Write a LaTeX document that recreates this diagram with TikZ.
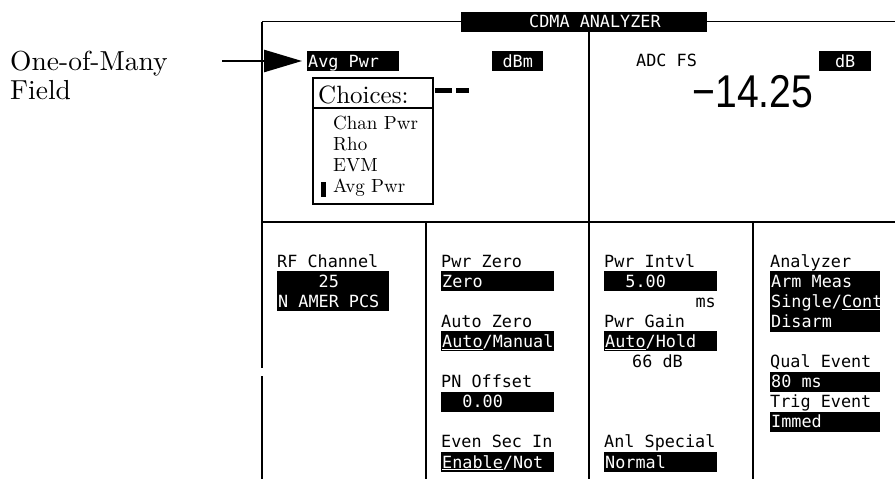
\documentclass[tikz,border=0pt]{standalone}
\usepackage{fontspec}
\usepackage{graphicx}
\usetikzlibrary{arrows.meta}
\newfontfamily\lcdfamily{DejaVu Sans Mono}
\newfontfamily\bigfamily{Liberation Sans}
\newfontfamily\notefamily{lmroman10-regular.otf}
\newcommand\lcd{\lcdfamily\fontsize{16.8}{20.1}\selectfont}
\newcommand\lcdstrut{\rule[-4pt]{0pt}{20pt}}
\newcommand\lcdspaces{\spaceskip=\fontdimen2\font\relax\xspaceskip=\spaceskip}

\begin{document}
\begin{tikzpicture}[x=1pt,y=-1pt,
    frame/.style={line width=1.4pt},
    lcdlabel/.style={font=\lcd,inner sep=0pt,anchor=west,execute at begin node=\lcdstrut},
    lcdfield/.style={fill=black,text=white,font=\lcd,inner xsep=1pt,inner ysep=0pt,
        text width=#1,align=left,anchor=west,execute at begin node=\lcdspaces\lcdstrut},
    lcdfield/.default=111pt,
    titlebar/.style={fill=black,inner sep=0pt,minimum width=246pt,minimum height=20pt},
    bigvalue/.style={font=\bigfamily\fontsize{46}{46}\selectfont,inner sep=0pt},
    pointer/.style={line width=2.5pt,-{Triangle[length=38pt,width=22pt]},shorten >=5pt},
    callout/.style={font=\notefamily\fontsize{27.5}{29}\selectfont,anchor=base west,align=left,
        text width=200pt,inner sep=0pt},
    popup/.style={draw,fill=white,line width=2pt,inner sep=0pt,
        minimum width=120pt,minimum height=126pt},
    choice/.style={font=\notefamily\fontsize{19}{21}\selectfont,anchor=base west,inner sep=0pt}]
\useasboundingbox (0,0) rectangle (895,479);

% frame of the display
\coordinate (tl) at (262,21.5);
\coordinate (tr) at (895,21.5);
\coordinate (gaptop) at (262,368);
\coordinate (gapbot) at (262,376);
\coordinate (bl) at (262,479);
\coordinate (ml) at (262,222);
\coordinate (mr) at (895,222);
\node[titlebar] (title) at (584,21.5) {};
\node[lcdlabel,text=white] (titletext) at (529,21.5) {CDMA ANALYZER};
\draw[frame] (tl) -- (title.west);
\draw[frame] (title.east) -- (tr);
\draw[frame] (tl) -- (gaptop);
\draw[frame] (gapbot) -- (bl);
\draw[frame] (ml) -- (mr);
\draw[frame] (title.south -| 589,0) -- (589,479);
\draw[frame] (426,222) -- (426,479);
\draw[frame] (753,222) -- (753,479);

% upper half
\node[lcdfield=90pt] (avgpwr) at (307,61) {Avg Pwr};
\node[lcdfield=49pt,align=center] (dbmunit) at (492,61) {dBm};
\node[lcdlabel] (adclabel) at (636,60) {ADC FS};
\node[lcdfield=50pt,align=center] (dbunit) at (819,61) {dB};
\node[bigvalue] (adcvalue) at (753,91.5) {\scalebox{0.85}[1]{−14.25}};
\fill (435,88) rectangle (452,93);
\fill (456,88) rectangle (469,93);

% choices pop-up
\node[popup] (popup) at (373,141) {};
\coordinate (popdiv) at (0,108);
\draw[line width=2pt] (popup.west |- popdiv) -- (popup.east |- popdiv);
\node[font=\notefamily\fontsize{25}{25}\selectfont,anchor=base west,inner sep=0pt] (choicehead) at (318,103) {Choices:};
\node[choice] (chanpwr) at (333,129) {Chan Pwr};
\node[choice] (rho) at (333,150) {Rho};
\node[choice] (evm) at (333,171) {EVM};
\node[choice] (avgchoice) at (333,192) {Avg Pwr};
\fill (321,182) rectangle (326,197);

% call-out
\node[callout] (fieldlabel) at (10,70) {One-of-Many\\Field};
\coordinate (arrowtail) at (222,61);
\draw[pointer] (arrowtail) -- (avgpwr.west);

% lower half, column 1
\node[lcdlabel] (rfchan) at (277,261) {RF Channel};
\node[lcdfield=110pt,anchor=north west] (rfchanval) at (277,271.1) {\phantom{0000}25\\\lcdstrut N AMER PCS};

% column 2
\node[lcdlabel] (pwrzero) at (441,261) {Pwr Zero};
\node[lcdfield] (pwrzeroval) at (441,281.1) {Zero};
\node[lcdlabel] (autozero) at (441,321.3) {Auto Zero};
\node[lcdfield] (autozeroval) at (441,341.4) {\underline{Auto}/Manual};
\node[lcdlabel] (pnoffset) at (441,381.6) {PN Offset};
\node[lcdfield] (pnoffsetval) at (441,401.7) {\phantom{00}0.00};
\node[lcdlabel] (evensec) at (441,441.9) {Even Sec In};
\node[lcdfield] (evensecval) at (441,462) {\underline{Enable}/Not};

% column 3
\node[lcdlabel] (pwrintvl) at (604,261) {Pwr Intvl};
\node[lcdfield] (pwrintvlval) at (604,281.1) {\phantom{00}5.00};
\node[lcdlabel,anchor=east] (pwrintvlunit) at (716,301.2) {ms};
\node[lcdlabel] (pwrgain) at (604,321.3) {Pwr Gain};
\node[lcdfield] (pwrgainval) at (604,341.4) {\underline{Auto}/Hold};
\node[lcdlabel] (pwrgainread) at (632,361.5) {66 dB};
\node[lcdlabel] (anlspecial) at (604,441.9) {Anl Special};
\node[lcdfield] (anlspecialval) at (604,462) {Normal};

% column 4
\node[lcdlabel] (analyzer) at (770,261) {Analyzer};
\node[lcdfield=108pt,anchor=north west] (analyzerval) at (770,271.1) {Arm Meas\\\lcdstrut Single/\underline{Cont}\\\lcdstrut Disarm};
\node[lcdlabel] (qualevent) at (770,361.5) {Qual Event};
\node[lcdfield=108pt] (qualeventval) at (770,381.6) {80 ms};
\node[lcdlabel] (trigevent) at (770,401.7) {Trig Event};
\node[lcdfield=108pt] (trigeventval) at (770,421.8) {Immed};
\end{tikzpicture}
\end{document}
